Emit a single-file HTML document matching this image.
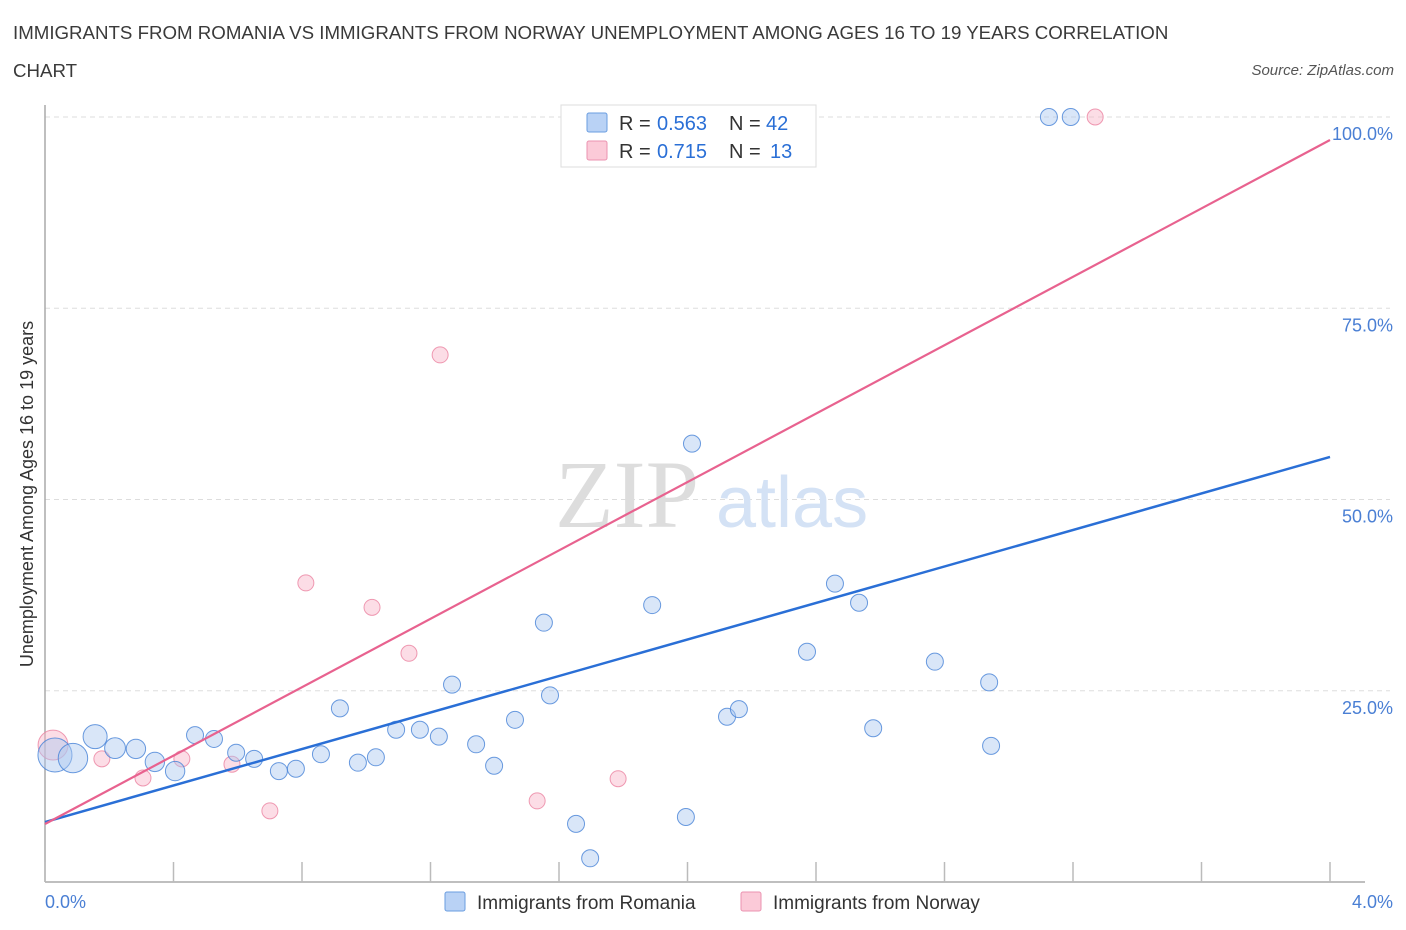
<!DOCTYPE html>
<html><head><meta charset="utf-8">
<style>
body{margin:0;background:#fff;font-family:"Liberation Sans",sans-serif;}
#wrap{position:relative;width:1406px;height:930px;overflow:hidden;}
.t{position:absolute;color:#333;}
</style></head>
<body>
<div id="wrap">
<div class="t" style="left:13px;top:14px;font-size:18.7px;line-height:38px;width:1180px;color:#3a3a3a">IMMIGRANTS FROM ROMANIA VS IMMIGRANTS FROM NORWAY UNEMPLOYMENT AMONG AGES 16 TO 19 YEARS CORRELATION CHART</div>
<div class="t" style="right:12px;top:62px;font-size:15px;font-style:italic;color:#555">Source: ZipAtlas.com</div>
<svg id="chart" width="1406" height="930" style="position:absolute;left:0;top:0"></svg>
</div>
<script>
const romX=[0.031,0.087,0.156,0.218,0.283,0.342,0.405,0.467,0.526,0.595,0.651,0.728,0.781,0.859,0.918,0.974,1.030,1.093,1.167,1.226,1.267,1.342,1.398,1.463,1.553,1.572,1.653,1.697,1.890,1.995,2.014,2.123,2.160,2.372,2.459,2.534,2.578,2.770,2.939,2.945,3.125,3.193];
const romY=[16.6,16.2,19.0,17.5,17.4,15.7,14.5,19.2,18.7,16.9,16.1,14.5,14.8,16.7,22.7,15.6,16.3,19.9,19.9,19.0,25.8,18.0,15.2,21.2,33.9,24.4,7.6,3.1,36.2,8.5,57.3,21.6,22.6,30.1,39.0,36.5,20.1,28.8,26.1,17.8,100,100];
const romW=[4,3,2,1.5,1.3,1.3,1.3,1,1,1,1,1,1,1,1,1,1,1,1,1,1,1,1,1,1,1,1,1,1,1,1,1,1,1,1,1,1,1,1,1,1,1];
const norX=[0.025,0.177,0.305,0.426,0.582,0.700,0.812,1.018,1.133,1.230,1.532,1.784,3.269];
const norY=[17.9,16.1,13.6,16.1,15.4,9.3,39.1,35.9,29.9,68.9,10.6,13.5,100];
const norW=[3.5,1,1,1,1,1,1,1,1,1,1,1,1];
const romLine=[7.84,55.56]; // y at x=0, x=4
const norLine=[7.58,96.99];
const yTicks=[25,50,75,100];
const yTickLabels=["25.0%","50.0%","75.0%","100.0%"];
const xTicks=[0,0.4,0.8,1.2,1.6,2.0,2.4,2.8,3.2,3.6,4.0];

const svg=document.getElementById('chart');
const NS='http://www.w3.org/2000/svg';
const X0=45,X1=1330,Y0=882,Y100=117;
const sx=v=>X0+(X1-X0)*v/4;
const sy=v=>Y0-(Y0-Y100)*v/100;
function mk(tag,attrs,parent){const e=document.createElementNS(NS,tag);for(const k in attrs)e.setAttribute(k,attrs[k]);(parent||svg).appendChild(e);return e;}

yTicks.forEach((t,i)=>{
 const g=mk('line',{x1:X0,x2:X1+60,y1:sy(t),y2:sy(t),stroke:'#ddd','stroke-dasharray':'5,4'});
 
 
 const tx=mk('text',{x:1393,y:sy(t)+23,'text-anchor':'end','font-size':'18',fill:'#4a7fd4','font-family':'Liberation Sans, sans-serif'});
 tx.textContent=yTickLabels[i];
 
 
});
const wm=mk('text',{x:555,y:527,'font-size':'96','font-family':'Liberation Serif, serif',fill:'#ddd'});wm.textContent='ZIP';


const wm2=mk('text',{x:716,y:527,'font-size':'72','font-family':'Liberation Sans, sans-serif',fill:'#d4e2f5'});wm2.textContent='atlas';


const ya=mk('line',{x1:X0,x2:X0,y1:105,y2:Y0,stroke:'#aaa','stroke-width':1.5});


const xa=mk('line',{x1:X0,x2:X1+35,y1:Y0,y2:Y0,stroke:'#aaa','stroke-width':1.5});


xTicks.forEach(t=>{const l=mk('line',{x1:sx(t),x2:sx(t),y1:862,y2:Y0,stroke:'#bbb','stroke-width':1.5});
 
 });
const xl0=mk('text',{x:45,y:908,'font-size':'18',fill:'#4a7fd4','font-family':'Liberation Sans, sans-serif'});xl0.textContent='0.0%';


const xl1=mk('text',{x:1393,y:908,'text-anchor':'end','font-size':'18',fill:'#4a7fd4','font-family':'Liberation Sans, sans-serif'});xl1.textContent='4.0%';


const yt=mk('text',{x:33,y:494,transform:'rotate(-90 33 494)','text-anchor':'middle','font-size':'18',fill:'#333','font-family':'Liberation Sans, sans-serif'});yt.textContent='Unemployment Among Ages 16 to 19 years';



norX.forEach((x,i)=>{const c=mk('circle',{cx:sx(x),cy:sy(norY[i]),r:8*Math.sqrt(norW[i]),fill:'rgba(248,180,200,0.45)',stroke:'rgba(235,130,160,0.8)','stroke-width':1});
 
 });
romX.forEach((x,i)=>{const c=mk('circle',{cx:sx(x),cy:sy(romY[i]),r:8.5*Math.sqrt(romW[i]),fill:'rgba(170,200,240,0.45)',stroke:'rgba(70,130,215,0.8)','stroke-width':1});
 
 });
const lr=mk('line',{x1:sx(0),y1:sy(romLine[0]),x2:sx(4),y2:sy(romLine[1]),stroke:'#2a6fd6','stroke-width':2.5});


const ln=mk('line',{x1:sx(0),y1:sy(norLine[0]),x2:sx(4),y2:sy(norLine[1]),stroke:'#e8628f','stroke-width':2.2});



const lb=mk('rect',{x:561,y:105,width:255,height:62,fill:'#fff',stroke:'#ddd'});


function legRow(y,fill,stroke,r,n,nx,name){
 const s=mk('rect',{x:587,y:y-10,width:20,height:19,fill:fill,stroke:stroke,rx:2});
 
 
 const t=mk('text',{x:619,y:y+7,'font-size':'20',fill:'#333','font-family':'Liberation Sans, sans-serif'});
 t.innerHTML='R = <tspan x="'+(r.length>5?653:657)+'" fill="#2a6fd6">'+r+'</tspan><tspan x="729">N = </tspan><tspan x="'+nx+'" fill="#2a6fd6">'+n+'</tspan>';
 
 
}
legRow(123,'#b9d2f5','#6a9de0','0.563','42',766,'romania');
legRow(151,'#fbcad8','#eb93b0','0.715','13',770,'norway');

function bl(x,fill,stroke,label,name){
 const s=mk('rect',{x:x,y:892,width:20,height:19,fill:fill,stroke:stroke,rx:2});
 
 
 const t=mk('text',{x:x+32,y:909,'font-size':'19',fill:'#333','font-family':'Liberation Sans, sans-serif'});t.textContent=label;
 
 
}
bl(445,'#b9d2f5','#6a9de0','Immigrants from Romania','romania');
bl(741,'#fbcad8','#eb93b0','Immigrants from Norway','norway');
</script>
</body></html>
